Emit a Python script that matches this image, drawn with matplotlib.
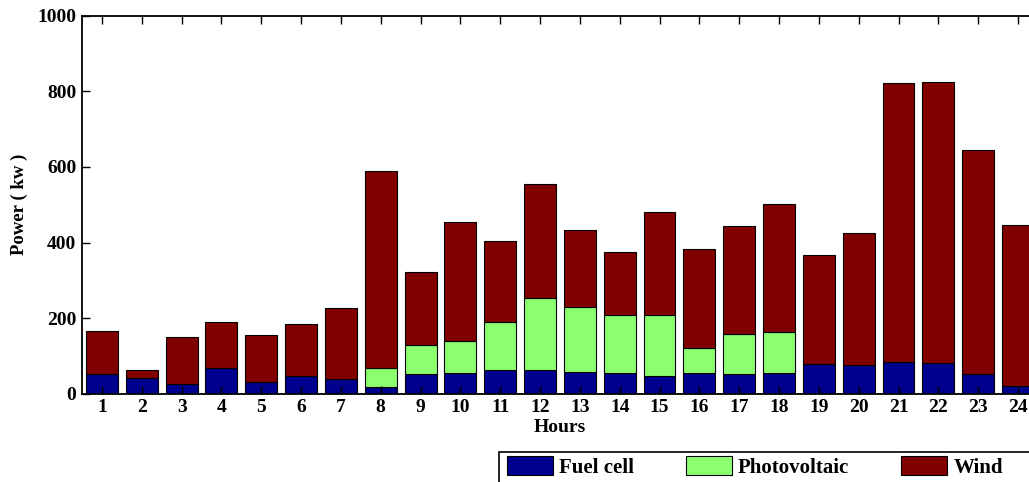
import numpy as np
import matplotlib
matplotlib.use("Agg")
import matplotlib.pyplot as plt
from matplotlib.patches import Rectangle

plt.rcParams['font.family'] = ['Liberation Serif', 'DejaVu Serif']
plt.rcParams['font.weight'] = 'bold'

hours = list(range(1, 25))
fuel_cell = [53, 41, 25, 67, 32, 46, 38, 18, 51, 55, 64, 62,
             57, 55, 47, 55, 53, 55, 78, 76, 84, 80, 53, 21]
photovoltaic = [0, 0, 0, 0, 0, 0, 0, 49, 77, 84, 127, 192,
                173, 152, 160, 65, 104, 107, 0, 0, 0, 0, 0, 0]
wind = [112, 22, 125, 124, 123, 139, 188, 522, 194, 315, 213, 300,
        203, 169, 274, 264, 287, 340, 290, 349, 738, 744, 592, 425]

labels = ['Fuel cell', 'Photovoltaic', 'Wind']
colors = ['#00008f', '#8cff70', '#800000']

W, H = 1029, 482
fig = plt.figure(figsize=(W / 100, H / 100), dpi=100)
# axes runs past the right edge of the image, like the cropped original
ax = fig.add_axes([0.0797, 0.1832, 0.929, 0.7842])

x = np.array(hours)
fc = np.array(fuel_cell)
pv = np.array(photovoltaic)
wd = np.array(wind)

kw = dict(width=0.8, edgecolor='black', linewidth=0.8)
b1 = ax.bar(x, fc, color=colors[0], **kw)
b2 = ax.bar(x, pv, bottom=fc, color=colors[1], **kw)
b3 = ax.bar(x, wd, bottom=fc + pv, color=colors[2], **kw)

ax.set_xlim(0.5, 24.5)
ax.set_ylim(0, 1000)
ax.set_xticks(hours)
ax.set_yticks([0, 200, 400, 600, 800, 1000])
ax.tick_params(direction='in', length=6, width=1, top=True, right=True,
               labelsize=14, pad=4)
for s in ax.spines.values():
    s.set_linewidth(1.3)

ax.set_xlabel('Hours', fontsize=14, fontweight='bold', labelpad=2)
ax.set_ylabel('Power ( kw )', fontsize=13.5, fontweight='bold', labelpad=7)

# legend box is also cut off by the right/bottom edge in the original,
# so draw its frame by hand
leg_x, leg_y = 499 / W, 1 - 451.7 / H
leg = fig.legend([b1, b2, b3], labels, ncol=3, loc='upper left',
                 bbox_to_anchor=(leg_x + 2 / W, leg_y + 2 / H), borderaxespad=0,
                 frameon=False, prop={'size': 15, 'weight': 'bold'},
                 handlelength=2.2, handleheight=1.05, handletextpad=0.29,
                 columnspacing=2.5, borderpad=0.3)
fig.add_artist(Rectangle((leg_x, -0.05), 0.6, leg_y + 0.05,
                         transform=fig.transFigure, fill=False,
                         edgecolor='black', linewidth=1.2))

fig.savefig('out.png', dpi=100)
